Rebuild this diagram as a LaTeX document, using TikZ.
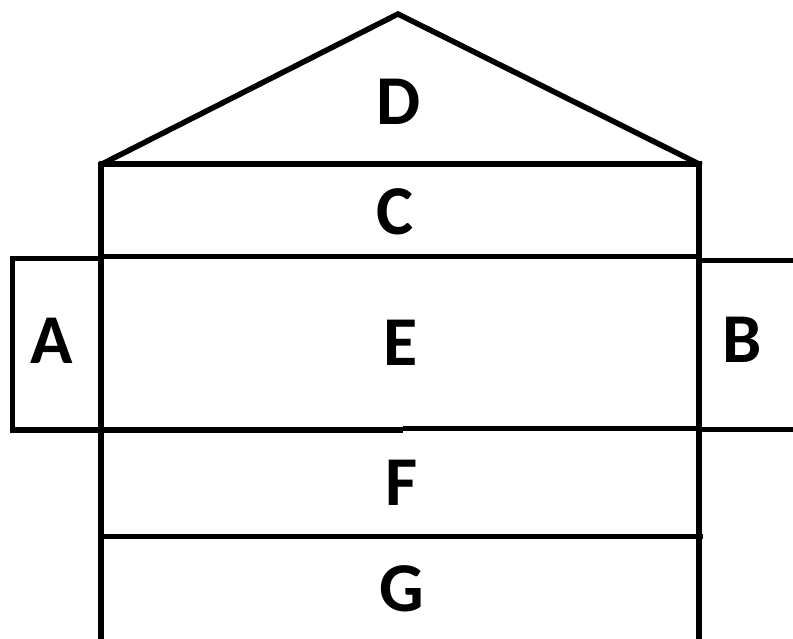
\documentclass[tikz,border=0pt]{standalone}
\usepackage{fontspec}
\setmainfont{Carlito}
\begin{document}
\begin{tikzpicture}[x=1pt,y=-1pt,
  wall/.style={line width=5.5pt,line cap=rect,line join=miter},
  lbl/.style={anchor=base,inner sep=0pt,font=\fontsize{70}{70}\selectfont\bfseries}]
\useasboundingbox (0,0) rectangle (793,639);
% house outline
\coordinate (apex) at (398,14);
\coordinate (rl) at (102,164);
\coordinate (rr) at (699,164);
\draw[wall] (rl) -- (apex) -- (rr);
\draw[wall] (rl) -- (rr);
\draw[wall,line cap=butt] (101,162) -- (101,639);
\draw[wall,line cap=butt] (699,162) -- (699,639);
% floor lines
\draw[wall,line cap=butt] (101,256.5) -- (699,256.5);
\draw[wall,line cap=butt] (101,430) -- (403,430);
\draw[wall,line cap=butt] (403,428.5) -- (699,428.5);
\draw[wall,line cap=butt] (101,536.5) -- (703,536.5);
% side boxes
\draw[wall,line cap=butt,line join=miter] (101,258.5) -- (12.5,258.5) -- (12.5,430) -- (101,430);
\draw[wall,line cap=butt] (699,260.5) -- (793,260.5);
\draw[wall,line cap=butt] (699,429.5) -- (793,429.5);
% labels
\node[lbl] (D) at (399,125) {D};
\node[lbl] (C) at (395,234.5) {C};
\node[lbl] (A) at (52,363) {A};
\node[lbl] (E) at (401,365) {E};
\node[lbl] (B) at (742,362) {B};
\node[lbl] (F) at (402,505) {F};
\node[lbl] (G) at (402,611.5) {G};
\end{tikzpicture}
\end{document}
